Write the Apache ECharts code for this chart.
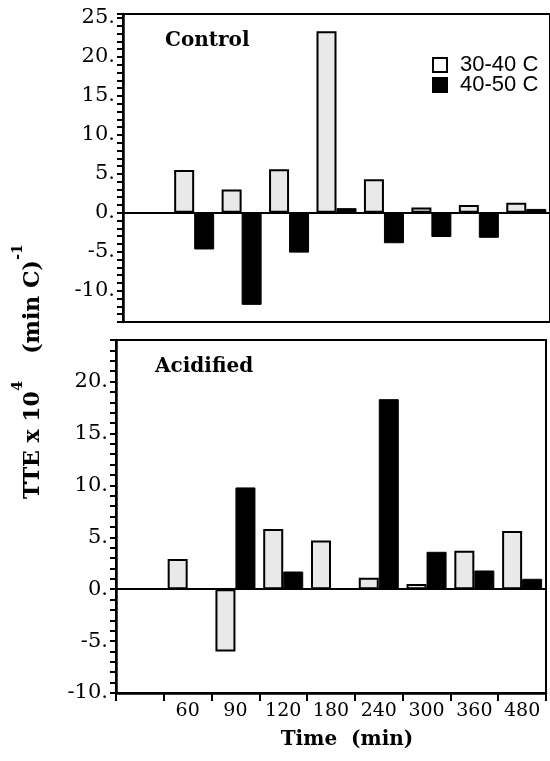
<!DOCTYPE html>
<html><head><meta charset="utf-8">
<script src="https://cdn.jsdelivr.net/npm/echarts@6/dist/echarts.min.js"></script>
<style>html,body{margin:0;padding:0;background:#fff}#c{width:550px;height:761px}</style>
</head><body><div id="c"></div>
<script>
const categories = ['', '60', '90', '120', '180', '240', '300', '360', '480'];
const control3040 = [null, 5.5, 3.0, 5.6, 23.3, 4.3, 0.7, 1.0, 1.3];
const control4050 = [null, -4.7, -11.8, -5.1, 0.6, -3.9, -3.1, -3.2, 0.5];
const acid3040 = [null, 2.9, -6.0, 5.8, 4.7, 1.1, 0.5, 3.7, 5.6];
const acid4050 = [null, null, 9.8, 1.7, 0.1, 18.3, 3.6, 1.8, 1.0];
const seriesNames = ['30-40 C', '40-50 C'];
const panelTitles = ['Control', 'Acidified'];
const xTitle = 'Time  (min)';

const chart = echarts.init(document.getElementById('c'));
const SERIF = 'DejaVu Serif';

function yAxisFor(grid, min, max) {
  return {
    type: 'value', gridIndex: grid, min: min, max: max, interval: 1,
    axisLine: { show: true, onZero: false, lineStyle: { color: '#000', width: 2.5 } },
    axisTick: { show: true, inside: false, length: 6, lineStyle: { color: '#000', width: 2 } },
    splitLine: { show: false },
    axisLabel: {
      margin: 8, color: '#000', fontFamily: SERIF, fontSize: 21,
      formatter: v => (Number.isInteger(v) && v % 5 === 0) ? (v + '.') : ''
    }
  };
}
const zeroLine = {
  silent: true, symbol: 'none', label: { show: false },
  lineStyle: { color: '#000', width: 2, type: 'solid' },
  data: [{ yAxis: 0 }]
};
const whiteStyle = { color: '#e9e9e9', borderColor: '#000', borderWidth: 2 };
const blackStyle = { color: '#000', borderColor: '#000', borderWidth: 1 };

chart.setOption({
  animation: false,
  backgroundColor: '#fff',
  title: [
    { text: panelTitles[0], left: 165, top: 31, padding: 0,
      textStyle: { fontFamily: SERIF, fontWeight: 'bold', fontSize: 20, color: '#000' } },
    { text: panelTitles[1], left: 155, top: 357, padding: 0,
      textStyle: { fontFamily: SERIF, fontWeight: 'bold', fontSize: 20, color: '#000' } }
  ],
  legend: {
    left: 432, top: 54, padding: 0, orient: 'vertical', itemWidth: 14, itemHeight: 14, itemGap: -2,
    icon: 'rect', selectedMode: false,
    textStyle: { fontFamily: 'Liberation Sans', fontSize: 22, color: '#000', padding: [0, 0, 0, 8] },
    data: [
      { name: seriesNames[0], itemStyle: { color: '#fff', borderColor: '#000', borderWidth: 2 } },
      { name: seriesNames[1], itemStyle: { color: '#000' } }
    ]
  },
  grid: [
    { left: 123, right: 0, top: 14, height: 308, show: true, borderColor: '#000', borderWidth: 2, backgroundColor: 'transparent' },
    { left: 116, right: 4, top: 340, height: 353, show: true, borderColor: '#000', borderWidth: 2, backgroundColor: 'transparent' }
  ],
  xAxis: [
    { type: 'category', gridIndex: 0, data: categories,
      axisLine: { show: false }, axisTick: { show: false }, axisLabel: { show: false } },
    { type: 'category', gridIndex: 1, data: categories,
      axisLine: { show: true, onZero: false, lineStyle: { color: '#000', width: 2.5 } },
      axisTick: { show: true, inside: false, length: 8, lineStyle: { color: '#000', width: 2 } },
      axisLabel: { margin: 9, color: '#000', fontFamily: SERIF, fontSize: 19, interval: 0 } }
  ],
  yAxis: [ yAxisFor(0, -14, 25.5), yAxisFor(1, -10, 24) ],
  graphic: [
    { type: 'text', x: 33, y: 445, rotation: Math.PI / 2,
      style: { text: 'TTE x 10', font: 'bold 22px "DejaVu Serif"', fill: '#000', align: 'center', verticalAlign: 'middle' } },
    { type: 'text', x: 18, y: 386, rotation: Math.PI / 2,
      style: { text: '4', font: 'bold 14px "DejaVu Serif"', fill: '#000', align: 'center', verticalAlign: 'middle' } },
    { type: 'text', x: 33, y: 307, rotation: Math.PI / 2,
      style: { text: '(min C)', font: 'bold 22px "DejaVu Serif"', fill: '#000', align: 'center', verticalAlign: 'middle' } },
    { type: 'text', x: 18, y: 252, rotation: Math.PI / 2,
      style: { text: '-1', font: 'bold 14px "DejaVu Serif"', fill: '#000', align: 'center', verticalAlign: 'middle' } },
    { type: 'text', x: 347, y: 740,
      style: { text: xTitle, font: 'bold 20px "DejaVu Serif"', fill: '#000', align: 'center', verticalAlign: 'middle' } }
  ],
  series: [
    { type: 'bar', name: seriesNames[0], xAxisIndex: 0, yAxisIndex: 0, data: control3040,
      barWidth: 20, barGap: '0%', itemStyle: whiteStyle, markLine: zeroLine },
    { type: 'bar', name: seriesNames[1], xAxisIndex: 0, yAxisIndex: 0, data: control4050,
      barWidth: 20, barGap: '0%', itemStyle: blackStyle },
    { type: 'bar', name: seriesNames[0], xAxisIndex: 1, yAxisIndex: 1, data: acid3040,
      barWidth: 20, barGap: '0%', itemStyle: whiteStyle, markLine: zeroLine },
    { type: 'bar', name: seriesNames[1], xAxisIndex: 1, yAxisIndex: 1, data: acid4050,
      barWidth: 20, barGap: '0%', itemStyle: blackStyle }
  ]
});
</script></body></html>
